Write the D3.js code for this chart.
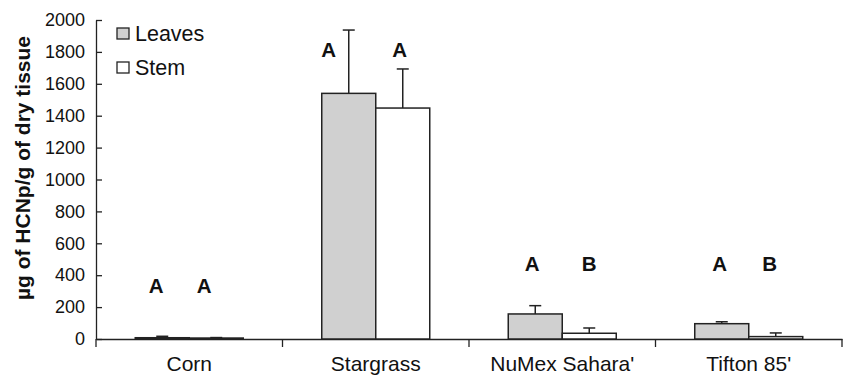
<!DOCTYPE html>
<html>
<head>
<meta charset="utf-8">
<script src="https://cdn.jsdelivr.net/npm/d3@7"></script>
<style>
  body { margin: 0; background: #fff; }
  text { font-family: "Liberation Sans", Arial, sans-serif; fill: #111; }
</style>
</head>
<body>
<svg id="chart"></svg>
<script>
// data
const cultivars = ["Corn", "Stargrass", "NuMex Sahara'", "Tifton 85'"];
const seriesNames = ["Leaves", "Stem"];
const leavesMean = [8, 1540, 157, 96];
const leavesErr = [9, 397, 52, 12];
const stemMean = [6, 1448, 36, 15];
const stemErr = [3, 245, 33, 23];
const leavesLetter = ["A", "A", "A", "A"];
const stemLetter = ["A", "A", "B", "B"];
const letterLevel = [332, 1812, 470, 470];
const yTicks = [0, 200, 400, 600, 800, 1000, 1200, 1400, 1600, 1800, 2000];

const W = 843, H = 375;
const margin = {top: 20, right: 1, bottom: 36, left: 96};
const width = W - margin.left - margin.right;
const height = H - margin.top - margin.bottom;

const svg = d3.select("#chart").attr("width", W).attr("height", H);
const g = svg.append("g").attr("transform", "translate(" + margin.left + "," + margin.top + ")");

const x = d3.scaleBand().domain(cultivars).range([0, width]).paddingInner(0).paddingOuter(0);
const y = d3.scaleLinear().domain([0, 2000]).range([height, 0]);
const barW = 54;
const colors = {Leaves: "#d0d0d0", Stem: "#ffffff"};

const rows = cultivars.map((c, i) => ({
  cat: c,
  bars: [
    {s: "Leaves", v: leavesMean[i], e: leavesErr[i], l: leavesLetter[i], dx: -barW / 2},
    {s: "Stem", v: stemMean[i], e: stemErr[i], l: stemLetter[i], dx: barW / 2}
  ],
  lv: letterLevel[i]
}));

// axes
const yAxis = g.append("g")
  .call(d3.axisLeft(y).tickValues(yTicks).tickFormat(d3.format("d"))
    .tickSizeInner(-6).tickSizeOuter(0).tickPadding(11));
yAxis.select(".domain").attr("stroke", "#222").attr("stroke-width", 1.3);
yAxis.selectAll(".tick line").attr("stroke", "#222").attr("stroke-width", 1.3);
yAxis.selectAll("text").attr("font-size", 18).attr("fill", "#111")
  .attr("font-family", "Liberation Sans, Arial, sans-serif");

const xAxis = g.append("g").attr("transform", "translate(0," + height + ")")
  .call(d3.axisBottom(x).tickSize(0).tickPadding(17));
xAxis.select(".domain").attr("stroke", "#222").attr("stroke-width", 1.3);
xAxis.selectAll("text").attr("font-size", 21).attr("fill", "#111")
  .attr("font-family", "Liberation Sans, Arial, sans-serif");
// separator ticks between categories
g.append("g").selectAll("line")
  .data([0].concat(cultivars.map(c => x(c) + x.bandwidth())))
  .join("line")
  .attr("x1", d => d).attr("x2", d => d)
  .attr("y1", height).attr("y2", height + 8)
  .attr("stroke", "#222").attr("stroke-width", 1.3);

// bars
const groups = g.selectAll(".grp").data(rows).join("g").attr("class", "grp")
  .attr("transform", d => "translate(" + (x(d.cat) + x.bandwidth() / 2) + ",0)");

const bar = groups.selectAll(".bar").data(d => d.bars).join("g");

// error bars (upper only)
bar.append("line")
  .attr("x1", d => d.dx).attr("x2", d => d.dx)
  .attr("y1", d => y(d.v)).attr("y2", d => y(d.v + d.e))
  .attr("stroke", "#222").attr("stroke-width", 1.5);
bar.append("line")
  .attr("x1", d => d.dx - 6).attr("x2", d => d.dx + 6)
  .attr("y1", d => y(d.v + d.e)).attr("y2", d => y(d.v + d.e))
  .attr("stroke", "#222").attr("stroke-width", 1.5);

bar.append("rect")
  .attr("x", d => d.dx - barW / 2)
  .attr("y", d => y(d.v))
  .attr("width", barW)
  .attr("height", d => height - y(d.v))
  .attr("fill", d => colors[d.s])
  .attr("stroke", "#222").attr("stroke-width", 1.5);

// significance letters
const letterShift = {"Corn": [-6, -12], "Stargrass": [-20, -3], "NuMex Sahara'": [-3, 0], "Tifton 85'": [-2, -6]};
groups.each(function(d) {
  d3.select(this).selectAll(".let").data(d.bars).join("text")
    .attr("x", (b, j) => b.dx + letterShift[d.cat][j])
    .attr("y", y(d.lv))
    .attr("dy", "0.36em")
    .attr("text-anchor", "middle")
    .attr("font-size", 20.5).attr("font-weight", "bold")
    .text(b => b.l);
});

// legend
const legend = g.append("g").attr("transform", "translate(21,8)");
seriesNames.forEach((s, i) => {
  const row = legend.append("g").attr("transform", "translate(0," + (i * 34) + ")");
  row.append("rect").attr("width", 12).attr("height", 11)
    .attr("fill", colors[s]).attr("stroke", "#222").attr("stroke-width", 1.3);
  row.append("text").attr("x", 18).attr("y", 5).attr("dy", "0.36em")
    .attr("font-size", 21.5).text(s);
});

// y title
svg.append("text")
  .attr("transform", "translate(22," + 168 + ") rotate(-90)")
  .attr("text-anchor", "middle")
  .attr("dy", "0.36em")
  .attr("font-size", 21).attr("font-weight", "bold")
  .text("µg of HCNp/g of dry tissue");
</script>
</body>
</html>
